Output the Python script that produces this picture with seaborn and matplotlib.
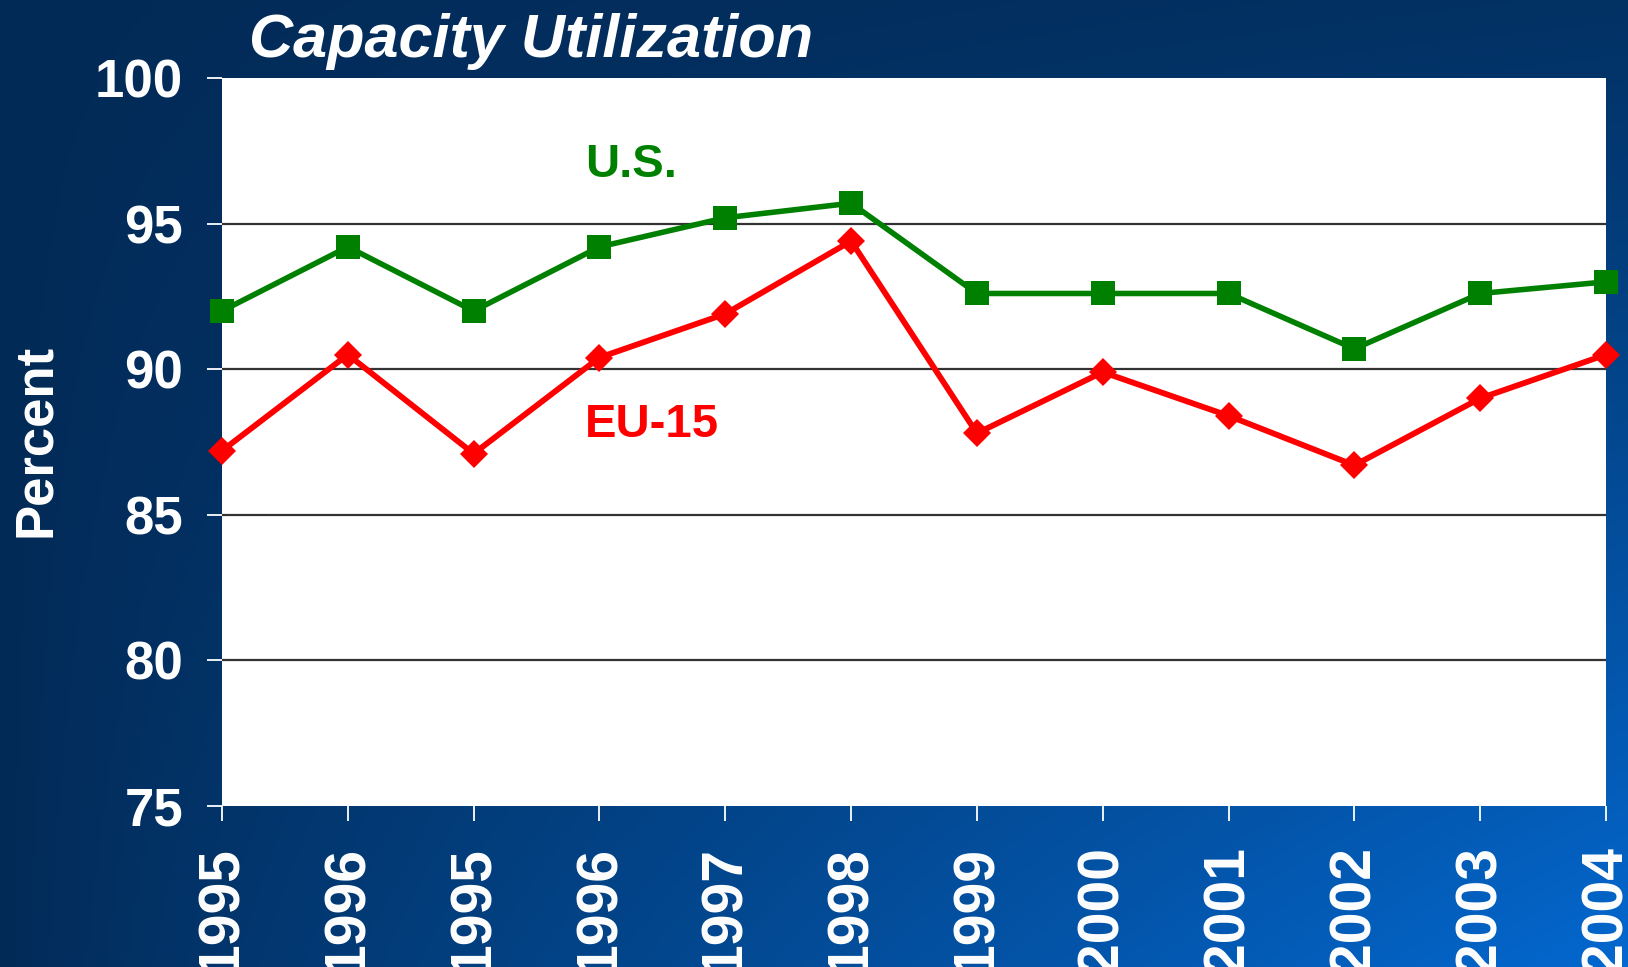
import numpy as np
import pandas as pd
import matplotlib
matplotlib.use("Agg")
import matplotlib.pyplot as plt
import seaborn as sns
from matplotlib.colors import to_rgb

# ---- data ----
year_labels = ["1995", "1996", "1995", "1996", "1997", "1998", "1999",
               "2000", "2001", "2002", "2003", "2004"]
us_values = [92.0, 94.2, 92.0, 94.2, 95.2, 95.7, 92.6, 92.6, 92.6, 90.7, 92.6, 93.0]
eu_values = [87.2, 90.5, 87.1, 90.4, 91.9, 94.4, 87.8, 89.9, 88.4, 86.7, 89.0, 90.5]
y_ticks = [75, 80, 85, 90, 95, 100]
title = "Capacity Utilization"
y_label = "Percent"

sns.set_theme(style="white")
plt.rcParams['font.family'] = ['Liberation Sans', 'DejaVu Sans']

W, H = 1628, 967
fig = plt.figure(figsize=(W / 100, H / 100), dpi=100)

# ---- gradient background ----
bg = fig.add_axes([0, 0, 1, 1], zorder=-10)
dark = np.array(to_rgb("#022a56"))
bright = np.array(to_rgb("#0468cf"))
xs = np.linspace(0, 1, 400)
ys = np.linspace(0, 1, 240)  # 0 = top
X, Y = np.meshgrid(xs, ys)
t = np.clip((X ** 0.85) * (0.12 + 0.88 * Y ** 1.1), 0, 1)
img = dark[None, None, :] * (1 - t[..., None]) + bright[None, None, :] * t[..., None]
bg.imshow(img, aspect="auto", extent=[0, 1, 0, 1], origin="upper")
bg.set_axis_off()

# ---- main axes ----
left, right, top, bottom = 222, 1606, 78, 806
ax = fig.add_axes([left / W, 1 - bottom / H, (right - left) / W, (bottom - top) / H])
ax.set_facecolor("white")

idx = list(range(len(year_labels)))
df_us = pd.DataFrame({"idx": idx, "value": us_values})
df_eu = pd.DataFrame({"idx": idx, "value": eu_values})

sns.lineplot(data=df_us, x="idx", y="value", ax=ax, color="#008000",
             linewidth=4.0, marker="s", markersize=17, markeredgewidth=0,
             clip_on=False, zorder=5)
sns.lineplot(data=df_eu, x="idx", y="value", ax=ax, color="#ff0000",
             linewidth=4.2, marker="D", markersize=14.5, markeredgewidth=0,
             clip_on=False, zorder=6)

ax.set_xlim(0, len(year_labels) - 1)
ax.set_ylim(75, 100)
ax.set_yticks(y_ticks)
ax.set_yticklabels([str(v) for v in y_ticks])
ax.set_xticks(idx)
ax.set_xticklabels(year_labels)
ax.set_xlabel("")
ax.set_ylabel("")

for s in ax.spines.values():
    s.set_visible(False)

ax.yaxis.grid(True, color="#333333", linewidth=1.6)
ax.xaxis.grid(False)
gl = ax.get_ygridlines()
gl[0].set_visible(False)
gl[-1].set_visible(False)
ax.set_axisbelow(True)

ax.tick_params(axis="y", which="both", left=True, length=11, width=1.3,
               color="white", pad=17, labelcolor="white", labelsize=38)
ax.tick_params(axis="x", which="both", bottom=True, length=11, width=1.3,
               color="white", pad=18, labelcolor="white")
for lab in ax.get_yticklabels():
    lab.set_fontweight("bold")
for lab in ax.get_xticklabels():
    lab.set_fontweight("bold")
    lab.set_fontsize(41)
    lab.set_rotation(90)
    lab.set_va("top")
    lab.set_ha("center")

# series labels
ax.text(3.25, 97.0, "U.S.", color="#008000", fontsize=34, fontweight="bold",
        ha="center", va="center")
ax.text(3.42, 88.1, "EU-15", color="#ff0000", fontsize=34, fontweight="bold",
        ha="center", va="center")

# title and y label
fig.text(249 / W, 1 - 57 / H, title, color="white", fontsize=44,
         fontweight="bold", fontstyle="italic", ha="left", va="baseline")
fig.text(36 / W, 1 - 440 / H, y_label, color="white", fontsize=38,
         fontweight="bold", rotation=90, ha="center", va="center")

fig.savefig("out.png", dpi=100)
